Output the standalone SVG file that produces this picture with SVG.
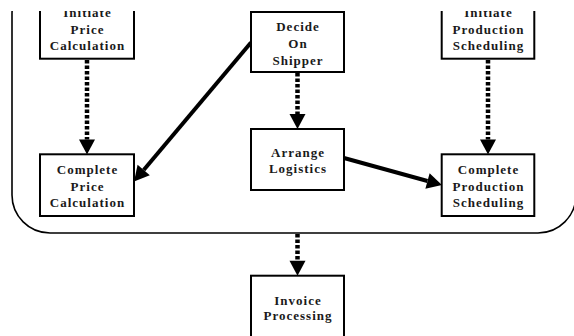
<svg xmlns="http://www.w3.org/2000/svg" width="574" height="336" viewBox="0 0 574 336">
<style>
.box{fill:#fff;stroke:#000;stroke-width:2}
.t{font-family:"Liberation Serif","Times New Roman",serif;font-weight:bold;font-size:13px;letter-spacing:1px;fill:#1a1a1a;text-anchor:middle}
.dot{stroke:#000;stroke-width:4.5;stroke-dasharray:3.5 2;fill:none}
.sol{stroke:#000;stroke-width:4;fill:none}
.frame{fill:none;stroke:#000;stroke-width:1.6}
</style>
<defs>
<clipPath id="clip"><rect x="0" y="11" width="574" height="325"/></clipPath>
<marker id="ah" markerUnits="userSpaceOnUse" markerWidth="16" markerHeight="16" viewBox="0 -8 16 16" refX="0" refY="0" orient="auto" overflow="visible">
<path d="M0,-8 L15,0 L0,8 z" fill="#000"/>
</marker>
</defs>
<g clip-path="url(#clip)">
<rect class="frame" x="12" y="-24" width="564" height="257" rx="38" ry="38"/>
<g id="connectors">
<line class="dot" x1="87" y1="60" x2="87" y2="139.5" marker-end="url(#ah)"/>
<line class="dot" x1="297.5" y1="73" x2="297.5" y2="114" marker-end="url(#ah)"/>
<line class="dot" x1="488" y1="60" x2="488" y2="139.5" marker-end="url(#ah)"/>
<line class="dot" x1="297.5" y1="234" x2="297.5" y2="260.7" marker-end="url(#ah)"/>
<line class="sol" x1="251" y1="42.5" x2="143.7" y2="170" marker-end="url(#ah)"/>
<line class="sol" x1="344" y1="158" x2="427.5" y2="181" marker-end="url(#ah)"/>
</g>
<g id="initiate-price">
<rect class="box" x="40" y="-10" width="94" height="68.7"/>
<text class="t" x="87.5" y="17">Initiate</text>
<text class="t" x="87.5" y="33.5">Price</text>
<text class="t" x="87.5" y="50">Calculation</text>
</g>
<g id="decide-shipper">
<rect class="box" x="251" y="12" width="93" height="60"/>
<text class="t" x="298" y="30.7">Decide</text>
<text class="t" x="298" y="48">On</text>
<text class="t" x="298" y="64.5">Shipper</text>
</g>
<g id="initiate-production">
<rect class="box" x="441.7" y="-10" width="92.6" height="68.7"/>
<text class="t" x="488.5" y="17">Initiate</text>
<text class="t" x="488.5" y="33.5">Production</text>
<text class="t" x="488.5" y="50">Scheduling</text>
</g>
<g id="complete-price">
<rect class="box" x="40" y="154.3" width="94" height="61.7"/>
<text class="t" x="87.5" y="174">Complete</text>
<text class="t" x="87.5" y="190.5">Price</text>
<text class="t" x="87.5" y="207">Calculation</text>
</g>
<g id="arrange-logistics">
<rect class="box" x="251" y="129" width="93" height="61"/>
<text class="t" x="298" y="156.7">Arrange</text>
<text class="t" x="298" y="173.3">Logistics</text>
</g>
<g id="complete-production">
<rect class="box" x="441.7" y="154.3" width="92.6" height="61.7"/>
<text class="t" x="488.5" y="174">Complete</text>
<text class="t" x="488.5" y="190.5">Production</text>
<text class="t" x="488.5" y="207">Scheduling</text>
</g>
<g id="invoice-processing">
<rect class="box" x="251" y="275.7" width="93" height="80"/>
<text class="t" x="298" y="305">Invoice</text>
<text class="t" x="298" y="320">Processing</text>
</g>
</g>
</svg>
